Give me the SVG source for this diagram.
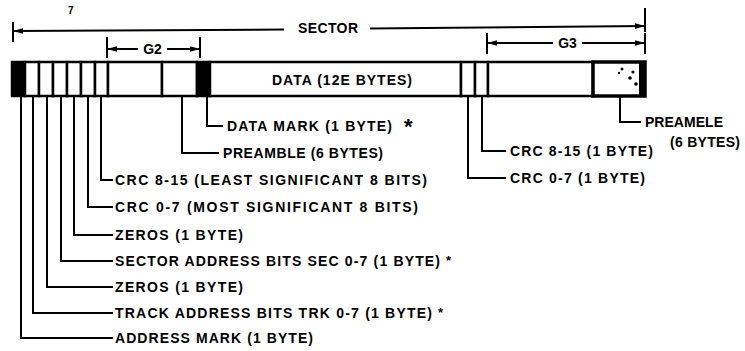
<svg xmlns="http://www.w3.org/2000/svg" width="745" height="351" viewBox="0 0 745 351">
<defs>
<style>
.lbl{font-family:"Liberation Sans",Arial,sans-serif;font-weight:bold;font-size:14px;fill:#000}
.ast{font-family:"Liberation Sans",Arial,sans-serif;font-weight:bold;font-size:13px;fill:#000}
.ln{stroke:#000;stroke-width:2;fill:none}
.dim{stroke:#000;stroke-width:2;fill:none}
.cell{fill:#fff;stroke:#000;stroke-width:2.5}
.blk{fill:#000;stroke:#000;stroke-width:2.5}
</style>
<marker id="ah" viewBox="0 0 10 10" refX="10" refY="5" markerWidth="10" markerHeight="10" orient="auto-start-reverse" markerUnits="userSpaceOnUse">
<path d="M0,2.2 L10,5 L0,7.8 z" fill="#000"/>
</marker>
</defs>
<rect width="745" height="351" fill="#fff"/>
<text x="68" y="14" style="font-family:'Liberation Sans',Arial,sans-serif;font-weight:bold;font-size:10px">7</text>

<g id="connectors">
<line class="dim" x1="13" y1="22" x2="13" y2="42"/>
<line class="dim" x1="645" y1="8" x2="645" y2="32"/>
<line class="dim" x1="13" y1="31" x2="284" y2="29.5" marker-start="url(#ah)"/>
<line class="dim" x1="370" y1="28.5" x2="645" y2="26" marker-end="url(#ah)"/>
<line class="dim" x1="107" y1="37" x2="107" y2="58"/>
<line class="dim" x1="200" y1="37" x2="200" y2="58"/>
<line class="dim" x1="107" y1="49" x2="138" y2="49" marker-start="url(#ah)"/>
<line class="dim" x1="167" y1="49" x2="200" y2="49" marker-end="url(#ah)"/>
<line class="dim" x1="487" y1="33" x2="487" y2="54"/>
<line class="dim" x1="645" y1="33" x2="645" y2="54"/>
<line class="dim" x1="487" y1="43" x2="553" y2="43" marker-start="url(#ah)"/>
<line class="dim" x1="582" y1="43" x2="645" y2="43" marker-end="url(#ah)"/>
<polyline class="ln" points="21,96 21,338 113,338"/>
<polyline class="ln" points="33,96 33,313 113,313"/>
<polyline class="ln" points="47,96 47,287 113,287"/>
<polyline class="ln" points="61,96 61,261 113,261"/>
<polyline class="ln" points="74,96 74,235 113,235"/>
<polyline class="ln" points="88,96 88,207 113,207"/>
<polyline class="ln" points="101,96 101,180 113,180"/>
<polyline class="ln" points="182,96 182,153 219,153"/>
<polyline class="ln" points="207,96 207,126 223,126"/>
<polyline class="ln" points="468,96 468,178 506,178"/>
<polyline class="ln" points="482,96 482,151 506,151"/>
<polyline class="ln" points="620,96 620,122 641,122"/>
</g>

<g id="address-mark"><rect class="blk" x="12" y="62" width="13" height="34"/><text class="lbl" x="115" y="343" textLength="198">ADDRESS MARK (1 BYTE)</text></g>
<g id="track-address"><rect class="cell" x="25" y="62" width="14" height="34"/><text class="lbl" x="115" y="318" textLength="317">TRACK ADDRESS BITS TRK 0-7 (1 BYTE)</text><text class="ast" x="438" y="317">*</text></g>
<g id="zeros-1"><rect class="cell" x="39" y="62" width="14" height="34"/><text class="lbl" x="115" y="292" textLength="128">ZEROS (1 BYTE)</text></g>
<g id="sector-address"><rect class="cell" x="53" y="62" width="14" height="34"/><text class="lbl" x="115" y="266" textLength="325">SECTOR ADDRESS BITS SEC 0-7 (1 BYTE)</text><text class="ast" x="446" y="265">*</text></g>
<g id="zeros-2"><rect class="cell" x="67" y="62" width="14" height="34"/><text class="lbl" x="115" y="240" textLength="128">ZEROS (1 BYTE)</text></g>
<g id="crc-0-7-a"><rect class="cell" x="81" y="62" width="14" height="34"/><text class="lbl" x="115" y="212" textLength="303">CRC 0-7 (MOST SIGNIFICANT 8 BITS)</text></g>
<g id="crc-8-15-a"><rect class="cell" x="95" y="62" width="13" height="34"/><text class="lbl" x="115" y="185" textLength="312">CRC 8-15 (LEAST SIGNIFICANT 8 BITS)</text></g>
<g id="gap-g2"><rect class="cell" x="108" y="62" width="54" height="34"/><text class="lbl" x="152.5" y="54" text-anchor="middle">G2</text></g>
<g id="preamble-1"><rect class="cell" x="162" y="62" width="35" height="34"/><text class="lbl" x="223" y="158" textLength="160">PREAMBLE (6 BYTES)</text></g>
<g id="data-mark"><rect class="blk" x="197" y="62" width="13" height="34"/><text class="lbl" x="227" y="131" textLength="165">DATA MARK (1 BYTE)</text><text class="lbl" x="404" y="134" style="font-size:22px">*</text></g>
<g id="data"><rect class="cell" x="210" y="62" width="251" height="34"/><text class="lbl" x="342" y="85" text-anchor="middle" textLength="140">DATA (12E BYTES)</text></g>
<g id="crc-0-7-b"><rect class="cell" x="461" y="62" width="14" height="34"/><text class="lbl" x="510" y="183" textLength="135">CRC 0-7 (1 BYTE)</text></g>
<g id="crc-8-15-b"><rect class="cell" x="475" y="62" width="13" height="34"/><text class="lbl" x="510" y="156" textLength="143">CRC 8-15 (1 BYTE)</text></g>
<g id="gap-g3"><rect class="cell" x="488" y="62" width="105" height="34"/><text class="lbl" x="567.5" y="48" text-anchor="middle">G3</text></g>
<g id="preamble-2"><rect x="593" y="62" width="52" height="34" fill="#fff" stroke="#000" stroke-width="3.5"/>
<rect x="639" y="62" width="6" height="34" fill="#000"/>
<circle cx="622" cy="69" r="1.5" fill="#000"/><circle cx="619" cy="73" r="1.2" fill="#000"/><circle cx="633" cy="72" r="1.6" fill="#000"/><circle cx="630" cy="78" r="1.8" fill="#000"/><circle cx="636" cy="84" r="1.8" fill="#000"/>
<text class="lbl" x="645" y="127" textLength="78">PREAMELE</text><text class="lbl" x="670" y="147" textLength="70">(6 BYTES)</text></g>
<text class="lbl" x="328" y="33" text-anchor="middle" textLength="60">SECTOR</text>
</svg>
